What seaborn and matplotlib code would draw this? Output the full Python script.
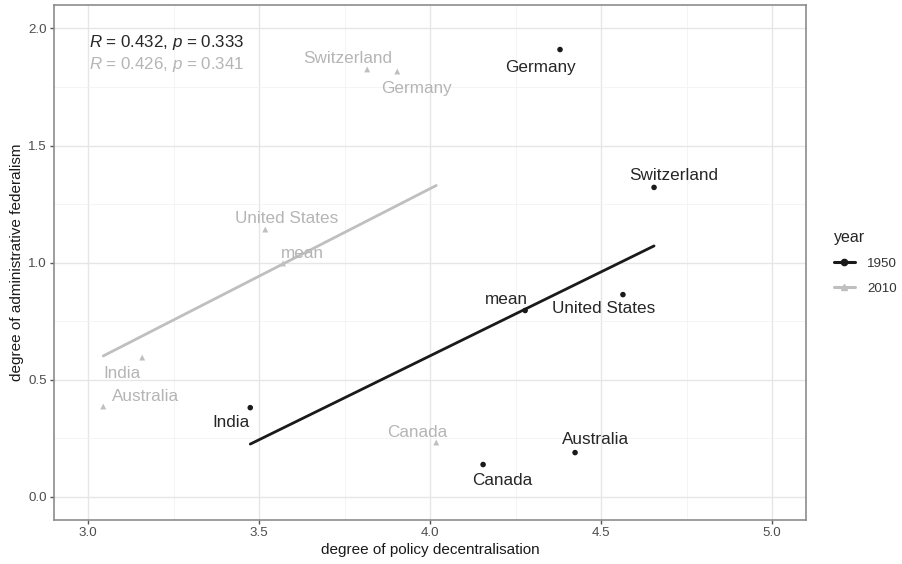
import numpy as np
import pandas as pd
import matplotlib
matplotlib.use("Agg")
import matplotlib.pyplot as plt
from matplotlib.lines import Line2D
import seaborn as sns

# Federalism scores per country and year (plus the cross-country mean)
countries = ["Germany", "Switzerland", "United States", "mean", "India", "Canada", "Australia"]
decent_1950 = [4.380, 4.655, 4.564, 4.278, 3.474, 4.155, 4.424]
admin_1950 = [1.910, 1.321, 0.863, 0.795, 0.380, 0.137, 0.188]
decent_2010 = [3.904, 3.816, 3.518, 3.570, 3.158, 4.018, 3.044]
admin_2010 = [1.816, 1.825, 1.141, 0.996, 0.594, 0.231, 0.385]
years = ["1950", "2010"]
stat_labels = {"1950": ("0.432", "0.333"), "2010": ("0.426", "0.341")}

x_ticks = [3.0, 3.5, 4.0, 4.5, 5.0]
y_ticks = [0.0, 0.5, 1.0, 1.5, 2.0]

df = pd.DataFrame({
    "country": countries * 2,
    "decentralisation": decent_1950 + decent_2010,
    "administrative": admin_1950 + admin_2010,
    "year": ["1950"] * len(countries) + ["2010"] * len(countries),
})

colors = {"1950": "#1a1a1a", "2010": "#bfbfbf"}
text_colors = {"1950": "#262626", "2010": "#b5b5b5"}
markers = {"1950": "o", "2010": "^"}

# label offsets (pixels) relative to each point, repel-style
offsets = {
    ("1950", "Germany"): (-20, -18), ("1950", "Switzerland"): (20, 12),
    ("1950", "United States"): (-19, -14), ("1950", "mean"): (-19, 11),
    ("1950", "India"): (-19, -15), ("1950", "Canada"): (19, -16),
    ("1950", "Australia"): (20, 13),
    ("2010", "Germany"): (19, -17), ("2010", "Switzerland"): (-20, 11),
    ("2010", "United States"): (21, 11), ("2010", "mean"): (19, 10),
    ("2010", "India"): (-20, -16), ("2010", "Canada"): (-19, 10),
    ("2010", "Australia"): (42, 10),
}

sns.set_theme(style="whitegrid")
plt.rcParams["font.family"] = ["Liberation Sans", "DejaVu Sans"]
plt.rcParams["mathtext.fontset"] = "custom"
plt.rcParams["mathtext.it"] = "Liberation Sans:italic"
plt.rcParams["mathtext.rm"] = "Liberation Sans"

fig = plt.figure(figsize=(9.03, 5.64), dpi=100)
ax = fig.add_axes([0.0598, 0.078, 0.8330, 0.913])
ax.set_facecolor("white")

for yr in ["2010", "1950"]:
    sub = df[df["year"] == yr]
    sns.regplot(data=sub, x="decentralisation", y="administrative", ax=ax,
                scatter=False, ci=None, truncate=True,
                line_kws={"color": colors[yr], "lw": 2.0, "zorder": 3})
    sns.scatterplot(data=sub, x="decentralisation", y="administrative", ax=ax,
                    color=colors[yr], marker=markers[yr], s=16 if yr == "1950" else 18,
                    edgecolor="none", zorder=4, legend=False)
    for _, row in sub.iterrows():
        dx, dy = offsets[(yr, row["country"])]
        ax.annotate(row["country"], (row["decentralisation"], row["administrative"]),
                    xytext=(dx, dy), textcoords="offset pixels",
                    ha="center", va="center", fontsize=12.3,
                    color=text_colors[yr], zorder=5)

# correlation annotations
for i, yr in enumerate(years):
    r, p = stat_labels[yr]
    ax.text(0.046, 0.928 - i * 0.043, rf"$R$ = {r}, $p$ = {p}", transform=ax.transAxes,
            fontsize=12.2, color=text_colors[yr], ha="left", va="center")

ax.set_xlim(2.9, 5.1)
ax.set_ylim(-0.1, 2.1)
ax.set_xticks(x_ticks)
ax.set_yticks(y_ticks)
ax.set_xticklabels([f"{v:.1f}" for v in x_ticks])
ax.set_yticklabels([f"{v:.1f}" for v in y_ticks])
ax.set_xticks([3.25, 3.75, 4.25, 4.75], minor=True)
ax.set_yticks([0.25, 0.75, 1.25, 1.75], minor=True)
ax.grid(True, which="major", color="#e6e6e6", lw=1.0)
ax.grid(True, which="minor", color="#f2f2f2", lw=0.6)
ax.tick_params(axis="both", which="major", labelsize=9.6, labelcolor="#4d4d4d",
               length=3, width=1, color="#555555", pad=2, bottom=True, left=True)
ax.tick_params(axis="both", which="minor", length=0)
for s in ax.spines.values():
    s.set_color("#8c8c8c")
    s.set_linewidth(1.2)

ax.set_xlabel("degree of policy decentralisation", fontsize=11, color="#1a1a1a", labelpad=3)
ax.set_ylabel("degree of administrative federalism", fontsize=11, color="#1a1a1a", labelpad=3)

handles = [Line2D([0], [0], color=colors[y], lw=2.2, marker=markers[y], markersize=4.5)
           for y in years]
leg = fig.legend(handles, years, title="year", loc="center left",
                 bbox_to_anchor=(0.910, 0.535), frameon=False, fontsize=9.6,
                 title_fontsize=11.5, handlelength=1.6, handletextpad=0.9,
                 alignment="left", labelspacing=0.95)
for t in leg.get_texts():
    t.set_color("#333333")

fig.savefig("out.png", dpi=100)
